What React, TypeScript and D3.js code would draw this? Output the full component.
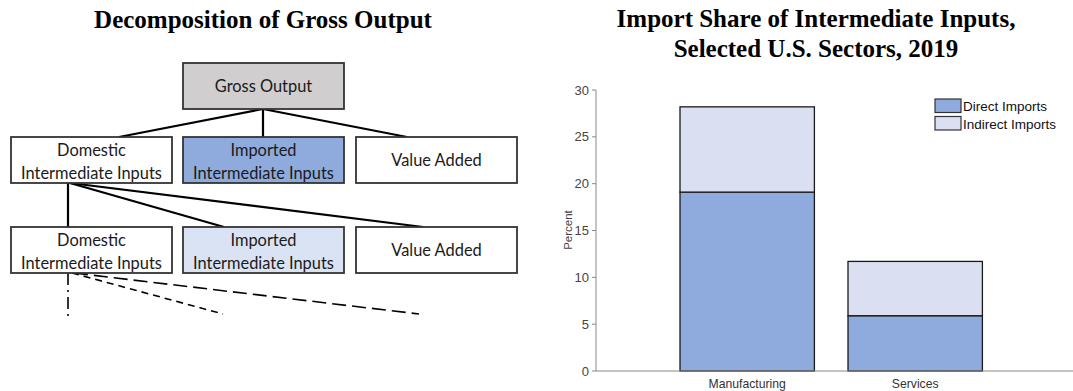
import React from "react";
import * as d3 from "d3";

const sectors = ["Manufacturing", "Services"];
const directImports = [19.1, 5.9];
const indirectImports = [9.1, 5.8];
const seriesNames = ["Direct Imports", "Indirect Imports"];
const seriesColors = ["#8faadc", "#dae0f2"];
const yTicks = [0, 5, 10, 15, 20, 25, 30];

const diagramFont = "Lato, 'Open Sans', sans-serif";
const chartFont = "'Liberation Sans', Arial, sans-serif";
const titleFont = "'Liberation Serif', 'Times New Roman', serif";

type Box = { x: number; y: number; w: number; h: number; lines: string[]; fill: string };

export default function App() {
  // Diagram layout
  const boxW = 161;
  const boxH = 46;
  const cols = [11, 183, 356];
  const rows = [137, 227];
  const boxes: Box[] = [
    { x: 183, y: 63, w: boxW, h: boxH, lines: ["Gross Output"], fill: "#d0cece" },
    { x: cols[0], y: rows[0], w: boxW, h: boxH, lines: ["Domestic", "Intermediate Inputs"], fill: "#ffffff" },
    { x: cols[1], y: rows[0], w: boxW, h: boxH, lines: ["Imported", "Intermediate Inputs"], fill: "#8faadc" },
    { x: cols[2], y: rows[0], w: boxW, h: boxH, lines: ["Value Added"], fill: "#ffffff" },
    { x: cols[0], y: rows[1], w: boxW, h: boxH, lines: ["Domestic", "Intermediate Inputs"], fill: "#ffffff" },
    { x: cols[1], y: rows[1], w: boxW, h: boxH, lines: ["Imported", "Intermediate Inputs"], fill: "#dae3f3" },
    { x: cols[2], y: rows[1], w: boxW, h: boxH, lines: ["Value Added"], fill: "#ffffff" },
  ];

  // Chart scales
  const y = d3.scaleLinear().domain([0, 30]).range([371, 90]);
  const x = d3.scaleLinear().domain([0.1, 3.0]).range([596, 596 + 2.9 * 168]);
  const barW = 0.8;
  const stacked = sectors.map((s, i) => ({
    name: s,
    idx: i + 1,
    segs: [
      { y0: 0, y1: directImports[i], color: seriesColors[0] },
      { y0: directImports[i], y1: directImports[i] + indirectImports[i], color: seriesColors[1] },
    ],
  }));

  return (
    <svg width={1073} height={391} style={{ position: "absolute", left: 0, top: 0, background: "#fff" }}>
      <rect x={0} y={0} width={1073} height={391} fill="#fff" />
      {/* Left diagram */}
      <text x={263} y={28} textAnchor="middle" fontFamily={titleFont} fontWeight="bold" fontSize={25} fill="#000">
        Decomposition of Gross Output
      </text>
      <g stroke="#000" strokeWidth={2.2} fill="none">
        <line x1={263} y1={109} x2={119} y2={137} />
        <line x1={263} y1={109} x2={263} y2={137} />
        <line x1={263} y1={109} x2={407} y2={137} />
        <line x1={68} y1={183} x2={68} y2={227} />
        <line x1={70} y1={183} x2={224} y2={227} />
        <line x1={70} y1={183} x2={423} y2={227} />
      </g>
      <g stroke="#000" strokeWidth={1.6} fill="none">
        <line x1={68} y1={273} x2={68} y2={316} strokeDasharray="12 5 2 5" />
        <line x1={72} y1={273} x2={223} y2={314} strokeDasharray="7 5" />
        <line x1={74} y1={273} x2={419} y2={314} strokeDasharray="14 6" />
      </g>
      {boxes.map((b, i) => (
        <g key={i}>
          <rect x={b.x} y={b.y} width={b.w} height={b.h} fill={b.fill} stroke="#333" strokeWidth={1.8} />
          {b.lines.map((t, j) => (
            <text
              key={j}
              x={b.x + b.w / 2}
              y={b.lines.length === 1 ? b.y + b.h / 2 + 6 : b.y + 19 + j * 23}
              textAnchor="middle"
              fontFamily={diagramFont}
              fontSize={16.4}
              fill="#1a1a1a"
            >
              {t}
            </text>
          ))}
        </g>
      ))}

      {/* Right chart */}
      <g fontFamily={titleFont} fontWeight="bold" fontSize={25} fill="#000" textAnchor="middle">
        <text x={816} y={27}>Import Share of Intermediate Inputs,</text>
        <text x={816} y={57}>Selected U.S. Sectors, 2019</text>
      </g>
      {stacked.map((s) => (
        <g key={s.name}>
          {s.segs.map((seg, k) => (
            <rect
              key={k}
              x={x(s.idx - barW / 2)}
              y={y(seg.y1)}
              width={x(s.idx + barW / 2) - x(s.idx - barW / 2)}
              height={y(seg.y0) - y(seg.y1)}
              fill={seg.color}
              stroke="#1a1a1a"
              strokeWidth={1.3}
            />
          ))}
          <text x={x(s.idx)} y={388} textAnchor="middle" fontFamily={chartFont} fontSize={12.2} fill="#333">
            {s.name}
          </text>
        </g>
      ))}
      {/* axes */}
      <line x1={596} y1={y(30)} x2={596} y2={y(0)} stroke="#888" strokeWidth={1} />
      <line x1={596} y1={y(0)} x2={1073} y2={y(0)} stroke="#888" strokeWidth={1} />
      {yTicks.map((t) => (
        <g key={t}>
          <line x1={592} x2={596} y1={y(t)} y2={y(t)} stroke="#888" />
          <text x={589} y={y(t) + 4.5} textAnchor="end" fontFamily={chartFont} fontSize={13} fill="#444">
            {t}
          </text>
        </g>
      ))}
      <text
        transform={`translate(572,230) rotate(-90)`}
        textAnchor="middle"
        fontFamily={chartFont}
        fontSize={11.5}
        fill="#444"
      >
        Percent
      </text>
      {/* legend */}
      {seriesNames.map((n, i) => (
        <g key={n}>
          <rect x={935} y={99 + i * 17.5} width={26} height={13.5} fill={seriesColors[i]} stroke="#333" strokeWidth={1.2} />
          <text x={963} y={111 + i * 17.5} fontFamily={chartFont} fontSize={13.5} fill="#111">
            {n}
          </text>
        </g>
      ))}
    </svg>
  );
}
